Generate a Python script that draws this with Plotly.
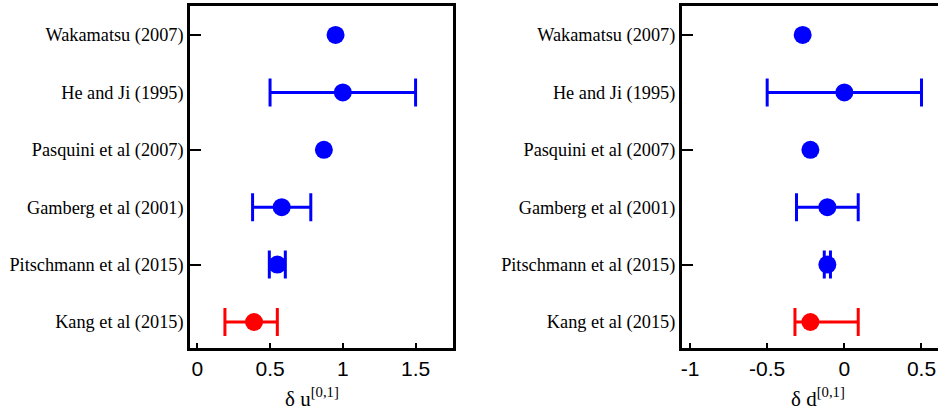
import plotly.graph_objects as go

# Studies listed bottom-to-top (row 1 = bottom)
studies = ["Kang et al (2015)", "Pitschmann et al (2015)", "Gamberg et al (2001)",
           "Pasquini et al (2007)", "He and Ji (1995)", "Wakamatsu (2007)"]
rows = [1, 2, 3, 4, 5, 6]
tick_rows = [2, 4, 6]

# tensor charge delta u^[0,1]: central value and asymmetric uncertainties (None = no bar)
du = [0.39, 0.55, 0.58, 0.87, 1.00, 0.95]
du_plus = [0.16, 0.055, 0.20, None, 0.50, None]
du_minus = [0.20, 0.055, 0.20, None, 0.50, None]

# tensor charge delta d^[0,1]
dd = [-0.22, -0.11, -0.11, -0.22, 0.00, -0.27]
dd_plus = [0.31, 0.02, 0.20, None, 0.50, None]
dd_minus = [0.10, 0.02, 0.20, None, 0.50, None]

du_ticks = [0, 0.5, 1, 1.5]
du_ticktext = ["0", "0.5", "1", "1.5"]
dd_ticks = [-1, -0.5, 0, 0.5]
dd_ticktext = ["-1", "-0.5", "0", "0.5"]

RED = "#ff0000"
BLUE = "#0000ff"
W, H = 938, 416
SERIF = "Liberation Serif, Times New Roman, serif"
SANS = "Liberation Sans, Arial, sans-serif"


def add_panel(fig, vals, plus, minus, xa, ya):
    # highlighted extraction (first row) in red, the rest in blue;
    # points with and without uncertainties go in separate traces
    color_of = [RED] + [BLUE] * (len(vals) - 1)
    for col in (RED, BLUE):
        for has_err in (True, False):
            idx = [i for i in range(len(vals))
                   if color_of[i] == col and (plus[i] is not None) == has_err]
            if not idx:
                continue
            err = None
            if has_err:
                err = dict(type="data", symmetric=False,
                           array=[plus[i] for i in idx],
                           arrayminus=[minus[i] for i in idx],
                           color=col, thickness=3, width=14)
            fig.add_trace(go.Scatter(
                x=[vals[i] for i in idx], y=[rows[i] for i in idx],
                mode="markers", xaxis=xa, yaxis=ya, showlegend=False,
                marker=dict(size=18, color=col, line=dict(width=0)),
                error_x=err, hoverinfo="skip",
            ))


fig = go.Figure()
add_panel(fig, du, du_plus, du_minus, "x", "y")
add_panel(fig, dd, dd_plus, dd_minus, "x2", "y2")
# empty traces so the tick-mark overlay axes are drawn
fig.add_trace(go.Scatter(x=[], y=[], xaxis="x", yaxis="y3", showlegend=False))
fig.add_trace(go.Scatter(x=[], y=[], xaxis="x2", yaxis="y4", showlegend=False))

ydom = [1 - 348 / H, 1 - 5.7 / H]
yrange = [0.547, 6.51]

xcommon = dict(showline=True, linewidth=2.5, linecolor="black", mirror=True,
               ticks="inside", ticklen=5, tickwidth=1.5, tickcolor="black",
               showgrid=False, zeroline=False, automargin=False,
               tickfont=dict(family=SANS, size=21, color="black"))
ycommon = dict(range=yrange, domain=ydom, showline=True, linewidth=2.5, linecolor="black",
               tickvals=rows, ticktext=studies, ticks="", showgrid=False, zeroline=False,
               automargin=False, ticklabelstandoff=0,
               tickfont=dict(family=SERIF, size=18.3, color="black"))
ytickaxis = dict(range=yrange, domain=ydom, tickvals=tick_rows, ticks="inside", ticklen=11,
                 tickwidth=1.5, tickcolor="black", showticklabels=False, showline=False,
                 showgrid=False, zeroline=False, automargin=False)

fig.update_layout(
    width=W, height=H, template="none",
    margin=dict(l=0, r=0, t=0, b=0),
    paper_bgcolor="white", plot_bgcolor="white",
    xaxis=dict(domain=[190 / W, 453 / W], range=[-0.05, 1.757], anchor="y",
               tickvals=du_ticks, ticktext=du_ticktext, **xcommon),
    yaxis=dict(anchor="x", mirror=True, **ycommon),
    xaxis2=dict(domain=[681.7 / W, 1.0], range=[-1.054, 0.607], anchor="y2",
                tickvals=dd_ticks, ticktext=dd_ticktext, **xcommon),
    yaxis2=dict(anchor="x2", mirror=False, **ycommon),
    yaxis3=dict(overlaying="y", anchor="x", **ytickaxis),
    yaxis4=dict(overlaying="y2", anchor="x2", **ytickaxis),
    annotations=[
        dict(text="δ u<sup>[0,1]</sup>", xref="paper", yref="paper",
             x=283 / W, y=1 - 397 / H, xanchor="left", yanchor="middle",
             showarrow=False, font=dict(family=SERIF, size=21, color="black")),
        dict(text="δ d<sup>[0,1]</sup>", xref="paper", yref="paper",
             x=789 / W, y=1 - 397 / H, xanchor="left", yanchor="middle",
             showarrow=False, font=dict(family=SERIF, size=21, color="black")),
    ],
)

fig.write_html("out.html")
